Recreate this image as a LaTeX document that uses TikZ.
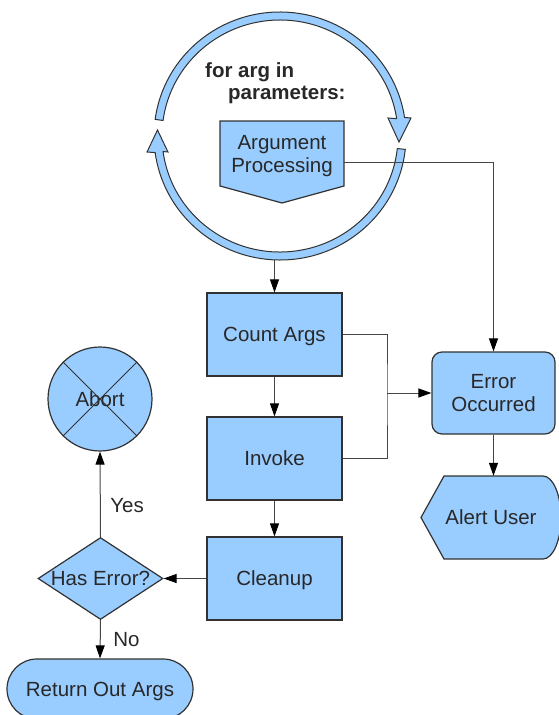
\documentclass[tikz,border=0pt]{standalone}
\usepackage{fontspec}
\setmainfont{Liberation Sans}
\usetikzlibrary{arrows.meta,shapes.geometric,calc}
\definecolor{fillblue}{RGB}{153,204,255}
\definecolor{edgec}{RGB}{50,50,50}
\definecolor{txtc}{RGB}{40,40,40}
\definecolor{linec}{RGB}{70,70,70}
\begin{document}
\begin{tikzpicture}[x=1pt,y=1pt,
  font=\fontsize{20.5}{22.5}\selectfont,
  oneline/.style={text height=18.5pt, text depth=4.3pt},
  shp/.style={draw=edgec, fill=fillblue, line width=1.2pt},
  box/.style={shp, rectangle, minimum width=135pt, minimum height=83pt, inner sep=0pt, text=txtc, align=center},
  lbl/.style={text=txtc, inner sep=0pt, align=center},
  conn/.style={draw=linec, line width=1pt},
  arr/.style={conn, -{Triangle[length=13pt,width=9pt,color=black]}},
]
\useasboundingbox (0,0) rectangle (559,-715);
\clip (0,0) rectangle (559,-715);

% loop ring
\begin{scope}[shift={(280,-136)}]
\draw[shp, line width=1pt] (172.3:126pt and 124pt) arc[start angle=172.3, end angle=8.6, x radius=126pt, y radius=124pt]
  -- (131,18) -- (119,-6) -- (108,18)
  -- (8.6:118pt and 116pt) arc[start angle=8.6, end angle=172.3, x radius=118pt, y radius=116pt] -- cycle;
\draw[shp, line width=1pt] (-6.2:126pt and 124pt) arc[start angle=-6.2, end angle=-172.3, x radius=126pt, y radius=124pt]
  -- (-133,-16) -- (-122.5,6) -- (-112,-16)
  -- (-172.3:118pt and 116pt) arc[start angle=-172.3, end angle=-6.2, x radius=118pt, y radius=116pt] -- cycle;
\end{scope}
\coordinate (ringbot) at (274.5,-260);
\node[lbl, align=left, anchor=west, font=\fontsize{20.5}{22.5}\selectfont\bfseries] (looptext) at (205,-83) {for arg in\\\hspace*{23pt}parameters:};

% argument processing (off-page shape)
\coordinate (argsc) at (282,-162);
\draw[shp] ($(argsc)+(-62,41)$) -- ($(argsc)+(62,41)$) -- ($(argsc)+(62,-24)$) -- ($(argsc)+(0,-41)$) -- ($(argsc)+(-62,-24)$) -- cycle;
\node[minimum width=124pt, minimum height=82pt, inner sep=0pt] (args) at (argsc) {};
\node[lbl] (argstext) at (282,-156) {Argument\\Processing};

% main boxes
\node[box, oneline] (count) at (274.5,-334.5) {Count Args};
\node[box, oneline] (invoke) at (274.5,-458.5) {Invoke};
\node[box, oneline] (cleanup) at (274.5,-578.5) {Cleanup};
\node[box, rounded corners=10pt, minimum width=123pt, minimum height=82pt] (error) at (493.5,-393) {Error\\Occurred};

% alert user (display shape)
\coordinate (alertc) at (491,-517.5);
\draw[shp] ($(alertc)+(-70,0)$) -- ($(alertc)+(-47,41.5)$) -- ($(alertc)+(52,41.5)$)
  arc[start angle=90, end angle=-90, x radius=18pt, y radius=41.5pt] -- ($(alertc)+(-47,-41.5)$) -- cycle;
\node[lbl, oneline, minimum width=140pt, minimum height=83pt] (alert) at (alertc) {Alert User};

% left column
\node[shp, oneline, circle, minimum size=104pt, inner sep=0pt, text=txtc] (abort) at (100,-399) {Abort};
\draw[draw=edgec, line width=1pt] (abort.45) -- (abort.225) (abort.135) -- (abort.-45);
\node[shp, diamond, minimum width=125pt, minimum height=82pt, inner sep=0pt, text=txtc] (diam) at (100.5,-578.5) {\makebox[0pt]{\rule[-4.3pt]{0pt}{22.8pt}Has Error?}};
\node[shp, oneline, rounded corners=30pt, minimum width=186pt, minimum height=60pt, inner sep=0pt, text=txtc] (ret) at (100,-689) {Return Out Args};

% connectors
\coordinate (j) at (387,-393);
\draw[arr] (ringbot) -- (count.north);
\draw[arr] (count.south) -- (invoke.north);
\draw[arr] (invoke.south) -- (cleanup.north);
\draw[conn] (count.east) -| (j) |- (invoke.east);
\draw[arr] (j) -- (error.west);
\draw[arr] (args.east) -| (error.north);
\draw[arr] (error.south) -- (error.south |- alert.north);
\draw[arr] (cleanup.west) -- (diam.east);
\draw[arr] (diam.north) -- (abort.south) node[lbl, oneline, pos=0.375, anchor=west, xshift=9.5pt] (yes) {Yes};
\draw[arr] (diam.south) -- (ret.north) node[lbl, oneline, pos=0.5, anchor=west, xshift=12.5pt] (no) {No};
\end{tikzpicture}
\end{document}
